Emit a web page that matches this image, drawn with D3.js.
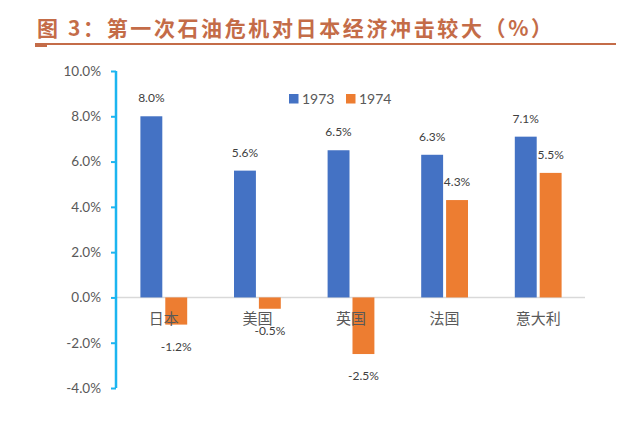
<!DOCTYPE html>
<html><head><meta charset="utf-8">
<script src="https://cdn.jsdelivr.net/npm/d3@7"></script>
<style>
html,body{margin:0;padding:0;background:#fff;}
svg{display:block;}
</style></head>
<body>
<svg id="chart" width="624" height="428"></svg>
<script>
const titleText = "图 3：第一次石油危机对日本经济冲击较大（%）";
const categories = ["日本", "美国", "英国", "法国", "意大利"];
const seriesNames = ["1973", "1974"];
const values1973 = [8.0, 5.6, 6.5, 6.3, 7.1];
const values1974 = [-1.2, -0.5, -2.5, 4.3, 5.5];
const yTicks = [-4, -2, 0, 2, 4, 6, 8, 10];
const colors = ["#4472C4", "#ED7D31"];

const svg = d3.select("#chart");
const cjk = "'Noto Sans CJK SC', sans-serif";
const latin = "Lato, 'Noto Sans CJK SC', sans-serif";
const gray = "#595959";
const fmt = v => d3.format(".1f")(v).replace("\u2212", "-") + "%";

// Title
svg.append("text")
  .attr("x", 37).attr("y", 36)
  .attr("font-family", cjk).attr("font-weight", "bold")
  .attr("font-size", 21).attr("fill", "#C46C48")
  .attr("textLength", 515).attr("lengthAdjust", "spacing")
  .text(titleText);
svg.append("line").attr("x1", 35).attr("x2", 616).attr("y1", 44).attr("y2", 44)
  .attr("stroke", "#C46C48").attr("stroke-width", 2);
svg.append("rect").attr("x", 35).attr("y", 44).attr("width", 12).attr("height", 3).attr("fill", "#C46C48");

// Scales
const y = d3.scaleLinear().domain([-4, 10]).range([388, 71]);
const x0 = d3.scaleBand().domain(categories).range([117, 585]).paddingInner(0.5).paddingOuter(0.25);
const x1 = d3.scaleBand().domain(seriesNames).range([0, x0.bandwidth()]).paddingInner(0.12);

// Zero line
svg.append("line").attr("x1", 117).attr("x2", 585).attr("y1", y(0)).attr("y2", y(0))
  .attr("stroke", "#D9D9D9").attr("stroke-width", 1.5);

// Y axis
const yAxis = d3.axisLeft(y).tickValues(yTicks).tickSize(5).tickPadding(10)
  .tickFormat(fmt);
const gy = svg.append("g").attr("transform", "translate(116,0)").call(yAxis);
gy.select(".domain").attr("stroke", "#1BB5F0").attr("stroke-width", 2.5).attr("d", `M0,${y(10)}V${y(-4)}`);
gy.selectAll(".tick line").attr("stroke", "#1BB5F0").attr("stroke-width", 2);
gy.selectAll(".tick text").attr("fill", gray).attr("font-family", latin).attr("font-size", 13.5);

// Bars
const data = [];
categories.forEach((c, i) => {
  data.push({cat: c, s: "1973", v: values1973[i]});
  data.push({cat: c, s: "1974", v: values1974[i]});
});
const bars = svg.append("g");
bars.selectAll("rect").data(data).join("rect")
  .attr("x", d => x0(d.cat) + x1(d.s))
  .attr("width", x1.bandwidth())
  .attr("y", d => y(Math.max(0, d.v)))
  .attr("height", d => Math.abs(y(d.v) - y(0)))
  .attr("fill", d => colors[seriesNames.indexOf(d.s)]);

// Category labels
svg.append("g").selectAll("text").data(categories).join("text")
  .attr("x", d => x0(d) + x0.bandwidth() / 2)
  .attr("y", y(0) + 27)
  .attr("text-anchor", "middle")
  .attr("font-family", cjk).attr("font-size", 15).attr("fill", gray)
  .text(d => d);

// Value labels
svg.append("g").selectAll("text").data(data).join("text")
  .attr("x", d => x0(d.cat) + x1(d.s) + x1.bandwidth() / 2)
  .attr("y", d => d.v >= 0 ? y(d.v) - 14 : y(d.v) + 26)
  .attr("text-anchor", "middle")
  .attr("font-family", latin).attr("font-size", 12).attr("fill", "#404040")
  .text(d => fmt(d.v));

// Legend
const leg = svg.append("g");
const legX = [289, 346];
seriesNames.forEach((s, i) => {
  leg.append("rect").attr("x", legX[i]).attr("y", 94).attr("width", 9.5).attr("height", 9.5).attr("fill", colors[i]);
  leg.append("text").attr("x", legX[i] + 13).attr("y", 104)
    .attr("font-family", latin).attr("font-size", 14).attr("fill", gray).text(s);
});
</script>
</body></html>
